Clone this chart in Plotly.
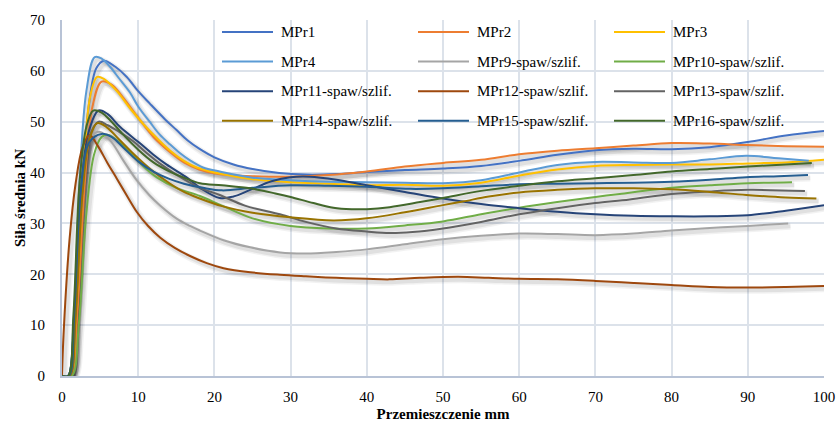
import plotly.graph_objects as go

# Displacement (mm) / mean force (kN) curves for each specimen
names = [
    "MPr1", "MPr2", "MPr3",
    "MPr4", "MPr9-spaw/szlif.", "MPr10-spaw/szlif.",
    "MPr11-spaw/szlif.", "MPr12-spaw/szlif.", "MPr13-spaw/szlif.",
    "MPr14-spaw/szlif.", "MPr15-spaw/szlif.", "MPr16-spaw/szlif.",
]

colors = [
    "#4472C4", "#ED7D31", "#FFC000",
    "#5B9BD5", "#A5A5A5", "#70AD47",
    "#264478", "#9E480E", "#636363",
    "#997300", "#255E91", "#43682B",
]

x_mpr1 = [0, 0.8, 1.5, 2.5, 3.5, 4.5, 5.5, 7, 8.5, 10, 11.5, 13.5, 15, 16.5, 18, 20, 22.5, 25, 28.5, 32, 36, 40, 45, 50, 55, 60, 65, 70, 75, 80, 85, 90, 95, 100]
y_mpr1 = [0, 0, 8, 33, 53, 60.5, 62, 60.8, 58.8, 56, 53.6, 50.5, 48.4, 46.3, 44.7, 43, 41.6, 40.7, 39.9, 39.6, 39.7, 40.1, 40.5, 40.8, 41.3, 42.3, 43.5, 44.4, 44.7, 44.6, 45, 46, 47.3, 48.2]

x_mpr2 = [0, 1.2, 2, 3, 4, 5.2, 6.5, 8, 10, 12, 14.2, 16, 18, 20.5, 25, 30, 35, 40, 45, 50, 55, 60, 65, 70, 75, 80, 85, 90, 95, 100]
y_mpr2 = [0, 0, 12, 38, 53, 57.9, 57.3, 54.8, 50.8, 47, 44, 42, 40.6, 39.7, 39.3, 39.2, 39.5, 40.2, 41.2, 41.9, 42.5, 43.6, 44.3, 44.8, 45.3, 45.8, 45.7, 45.4, 45.2, 45.1]

x_mpr3 = [0, 1, 1.8, 2.8, 3.7, 4.6, 5.5, 7.2, 9, 10.7, 12.5, 14.2, 16, 17.7, 20.7, 25, 30, 35, 40, 45, 50, 55, 60, 65, 70, 75, 80, 85, 90, 95, 100]
y_mpr3 = [0, 0, 12, 40, 55, 58.8, 58.4, 56, 52.5, 49.5, 46.7, 44.3, 42.3, 41, 39.8, 38.7, 38.1, 37.8, 37.5, 37.6, 37.4, 38, 39.4, 40.6, 41.3, 41.5, 41.6, 41.6, 41.8, 42, 42.5]

x_mpr4 = [0, 0.8, 1.5, 2.3, 3.2, 4.3, 5.2, 6.3, 7.5, 8.9, 10, 11.5, 12.8, 14.2, 15.5, 16.8, 18.5, 20.7, 25, 30, 35, 40, 45, 50, 55, 60, 65, 70, 75, 80, 85, 89.8, 94, 98]
y_mpr4 = [0, 0, 10, 38, 56, 62.7, 62.4, 60.8, 58.5, 55.8, 53, 50, 47.5, 45.5, 43.8, 42.4, 41, 40.2, 39, 38.5, 38.2, 38.1, 38, 37.9, 38.5, 40, 41.5, 42.1, 42, 41.9, 42.6, 43.3, 42.8, 42.3]

x_mpr9 = [0, 1, 1.8, 2.8, 3.8, 5, 6.5, 8, 9.8, 11.5, 12.9, 15, 16.8, 18.1, 21.2, 24.7, 28.6, 32, 36, 40, 45, 50, 55, 60, 65, 70, 75, 80, 85, 90, 95.3]
y_mpr9 = [0, 0, 15, 38, 47, 48, 46, 42.5, 38.5, 35.5, 33.5, 31, 29.5, 28.6, 26.7, 25.3, 24.3, 24.1, 24.4, 24.9, 25.9, 26.9, 27.6, 28, 27.9, 27.7, 28, 28.6, 29.1, 29.5, 30]

x_mpr10 = [0, 1.3, 2.2, 3.2, 4.2, 5.2, 6.1, 7.5, 9, 10.5, 12.5, 15, 18.1, 21, 25, 30, 35, 40, 45, 50, 55, 60, 65, 70, 73.2, 80, 85, 90, 95.8]
y_mpr10 = [0, 0, 10, 32, 43.5, 47, 47.4, 46, 43.8, 41.5, 39, 37, 35.4, 33.5, 31, 29.5, 29, 29, 29.6, 30.4, 31.8, 33.1, 34.2, 35.2, 35.8, 37, 37.5, 37.9, 38.1]

x_mpr11 = [0, 0.8, 1.5, 2.4, 3.5, 4.8, 6, 7.6, 10.2, 12, 13.7, 16.4, 18.1, 20.7, 22.5, 24.7, 27.5, 30, 32.5, 36, 40, 45, 50, 55, 60, 65, 70, 75, 80, 85, 90, 95, 100]
y_mpr11 = [0, 0, 8, 35, 48, 52.2, 51.5, 49, 45.8, 43.5, 41.6, 39, 37, 35, 35.3, 36.6, 38.3, 39.1, 39.2, 38.6, 37.5, 36.2, 34.9, 33.8, 33, 32.3, 31.8, 31.5, 31.4, 31.4, 31.6, 32.5, 33.6]

x_mpr12 = [0, 0.2, 1, 1.8, 2.7, 3.6, 4.6, 6, 7.2, 8.5, 9.8, 11.3, 12.9, 14.8, 16.8, 19, 21.2, 24.7, 28.6, 32, 36, 40, 43, 47, 52, 56, 60, 65, 70, 75, 80, 85, 90, 95, 100]
y_mpr12 = [0, 8, 27, 38, 45, 47.4, 45.5, 41.8, 38.8, 35.5, 32.3, 29.5, 27.2, 25.2, 23.6, 22.2, 21.2, 20.4, 19.9, 19.6, 19.3, 19.1, 19, 19.3, 19.5, 19.3, 19.1, 19, 18.7, 18.3, 17.9, 17.5, 17.4, 17.5, 17.7]

x_mpr13 = [0, 1, 1.7, 2.6, 3.6, 4.8, 6, 7.5, 9.3, 11, 13, 15, 18.1, 20.7, 24, 28.6, 32, 36, 40, 43, 46, 50, 55, 60, 65, 70, 74.5, 80, 85, 90, 97.5]
y_mpr13 = [0, 0, 10, 35, 47, 50, 49.3, 48, 46.2, 44, 41.6, 39.6, 37, 35.6, 33.5, 31.8, 30.3, 29, 28.4, 28.1, 28.3, 29, 30.3, 31.8, 33, 34, 34.7, 35.8, 36.3, 36.6, 36.4]

x_mpr14 = [0, 1, 1.8, 2.7, 3.6, 4.6, 5.8, 7.5, 9.5, 11.5, 14, 16, 18.1, 21, 25, 30, 35.6, 40, 45, 50, 52.6, 56, 60, 65, 70, 75, 80, 85, 89.8, 95, 99]
y_mpr14 = [0, 0, 12, 36, 46.5, 49.7, 49, 46.5, 43.5, 40.8, 38, 36.2, 34.9, 33.4, 32.1, 31.2, 30.6, 31, 32.2, 33.6, 34.3, 35.3, 36.1, 36.6, 36.9, 36.9, 36.7, 36.2, 35.6, 35.1, 34.9]

x_mpr15 = [0, 0.9, 1.6, 2.5, 3.6, 5.2, 6.5, 8, 10, 12, 14, 16, 18.5, 21, 25, 30, 35, 40, 45.7, 50, 55, 60, 65, 70, 75, 80, 85, 89.8, 94, 97.9]
y_mpr15 = [0, 0, 12, 37, 46, 47.6, 47, 45, 42.2, 40.2, 38.8, 37.8, 37, 36.5, 37, 37.5, 37.4, 37.2, 36.8, 36.9, 37.3, 37.7, 37.8, 37.9, 38, 38.2, 38.6, 39.1, 39.3, 39.5]

x_mpr16 = [0, 0.8, 1.5, 2.3, 3.2, 4.1, 5.2, 6.5, 8, 10, 12, 14, 16, 18.1, 21, 24.7, 28, 30, 33, 35.6, 38, 40, 43, 47, 50, 55, 60, 65, 70, 75, 80, 85, 90, 95, 98.4]
y_mpr16 = [0, 0, 12, 38, 49, 52.2, 51.8, 50, 47.5, 44.5, 42, 40.3, 39, 37.9, 37.5, 36.9, 35.9, 35.2, 34, 33.1, 32.8, 32.8, 33.2, 34.2, 35, 36.4, 37.4, 38.3, 38.9, 39.5, 40.2, 40.7, 41.2, 41.6, 41.9]

xs = [x_mpr1, x_mpr2, x_mpr3, x_mpr4, x_mpr9, x_mpr10,
      x_mpr11, x_mpr12, x_mpr13, x_mpr14, x_mpr15, x_mpr16]
ys = [y_mpr1, y_mpr2, y_mpr3, y_mpr4, y_mpr9, y_mpr10,
      y_mpr11, y_mpr12, y_mpr13, y_mpr14, y_mpr15, y_mpr16]

x_ticks = [0, 10, 20, 30, 40, 50, 60, 70, 80, 90, 100]
y_ticks = [0, 10, 20, 30, 40, 50, 60, 70]

FONT = "Liberation Serif, Times New Roman, serif"
W, H = 837, 424
ML, MR, MT, MB = 62, 13, 20, 48

fig = go.Figure()

# soft drop shadow under every curve (offset down/right)
for x, y in zip(xs, ys):
    sx = [v + 0.3 for v in x]
    sy = [v - 0.55 for v in y]
    for wdt, alpha in ((7, 0.05), (4, 0.07)):
        fig.add_trace(go.Scatter(
            x=sx, y=sy, mode="lines",
            line=dict(color=f"rgba(0,0,0,{alpha})", width=wdt,
                      shape="spline", smoothing=1.0),
            hoverinfo="skip", showlegend=False,
        ))

# the curves themselves
for name, color, x, y in zip(names, colors, xs, ys):
    fig.add_trace(go.Scatter(
        x=x, y=y, mode="lines", name=name,
        line=dict(color=color, width=2, shape="spline", smoothing=1.0),
        showlegend=False,
    ))

# legend: 3 columns x 4 rows drawn inside the plot area
pw, ph = W - ML - MR, H - MT - MB
shapes, annotations = [], []
for i, (name, color) in enumerate(zip(names, colors)):
    row, col = divmod(i, 3)
    px0 = 222 + 196 * col
    py = 32 + 29.6 * row
    shapes.append(dict(
        type="line", xref="paper", yref="paper",
        x0=(px0 - ML) / pw, x1=(px0 + 51 - ML) / pw,
        y0=(H - MB - py) / ph, y1=(H - MB - py) / ph,
        line=dict(color=color, width=2),
    ))
    annotations.append(dict(
        xref="paper", yref="paper",
        x=(px0 + 57 - ML) / pw, y=(H - MB - py) / ph,
        xanchor="left", yanchor="middle", showarrow=False,
        text=name, font=dict(family=FONT, size=15, color="#000000"),
    ))

fig.update_layout(
    width=W, height=H,
    margin=dict(l=ML, r=MR, t=MT, b=MB, autoexpand=False),
    paper_bgcolor="white", plot_bgcolor="white",
    font=dict(family=FONT, size=15, color="#000000"),
    shapes=shapes, annotations=annotations,
    showlegend=False,
)

fig.update_xaxes(
    range=[0, 100], tickvals=x_ticks, ticktext=[str(v) for v in x_ticks],
    automargin=False,
    showgrid=True, gridcolor="#DCE2EA", gridwidth=2,
    showline=True, linecolor="#B8C3D6", linewidth=2,
    zeroline=False, ticks="", ticklabelstandoff=6,
    tickfont=dict(family=FONT, size=15, color="#000000"),
    title=dict(text="<b>Przemieszczenie mm</b>", standoff=4,
               font=dict(family=FONT, size=15, color="#000000")),
)
fig.update_yaxes(
    range=[0, 70], tickvals=y_ticks, ticktext=[str(v) for v in y_ticks],
    automargin=False,
    showgrid=True, gridcolor="#DCE2EA", gridwidth=2,
    showline=True, linecolor="#B8C3D6", linewidth=2,
    zeroline=False, ticks="", ticklabelstandoff=12,
    tickfont=dict(family=FONT, size=15, color="#000000"),
    title=dict(text="<b>Siła średnia kN</b>", standoff=1,
               font=dict(family=FONT, size=15, color="#000000")),
)

fig.write_html("out.html")
